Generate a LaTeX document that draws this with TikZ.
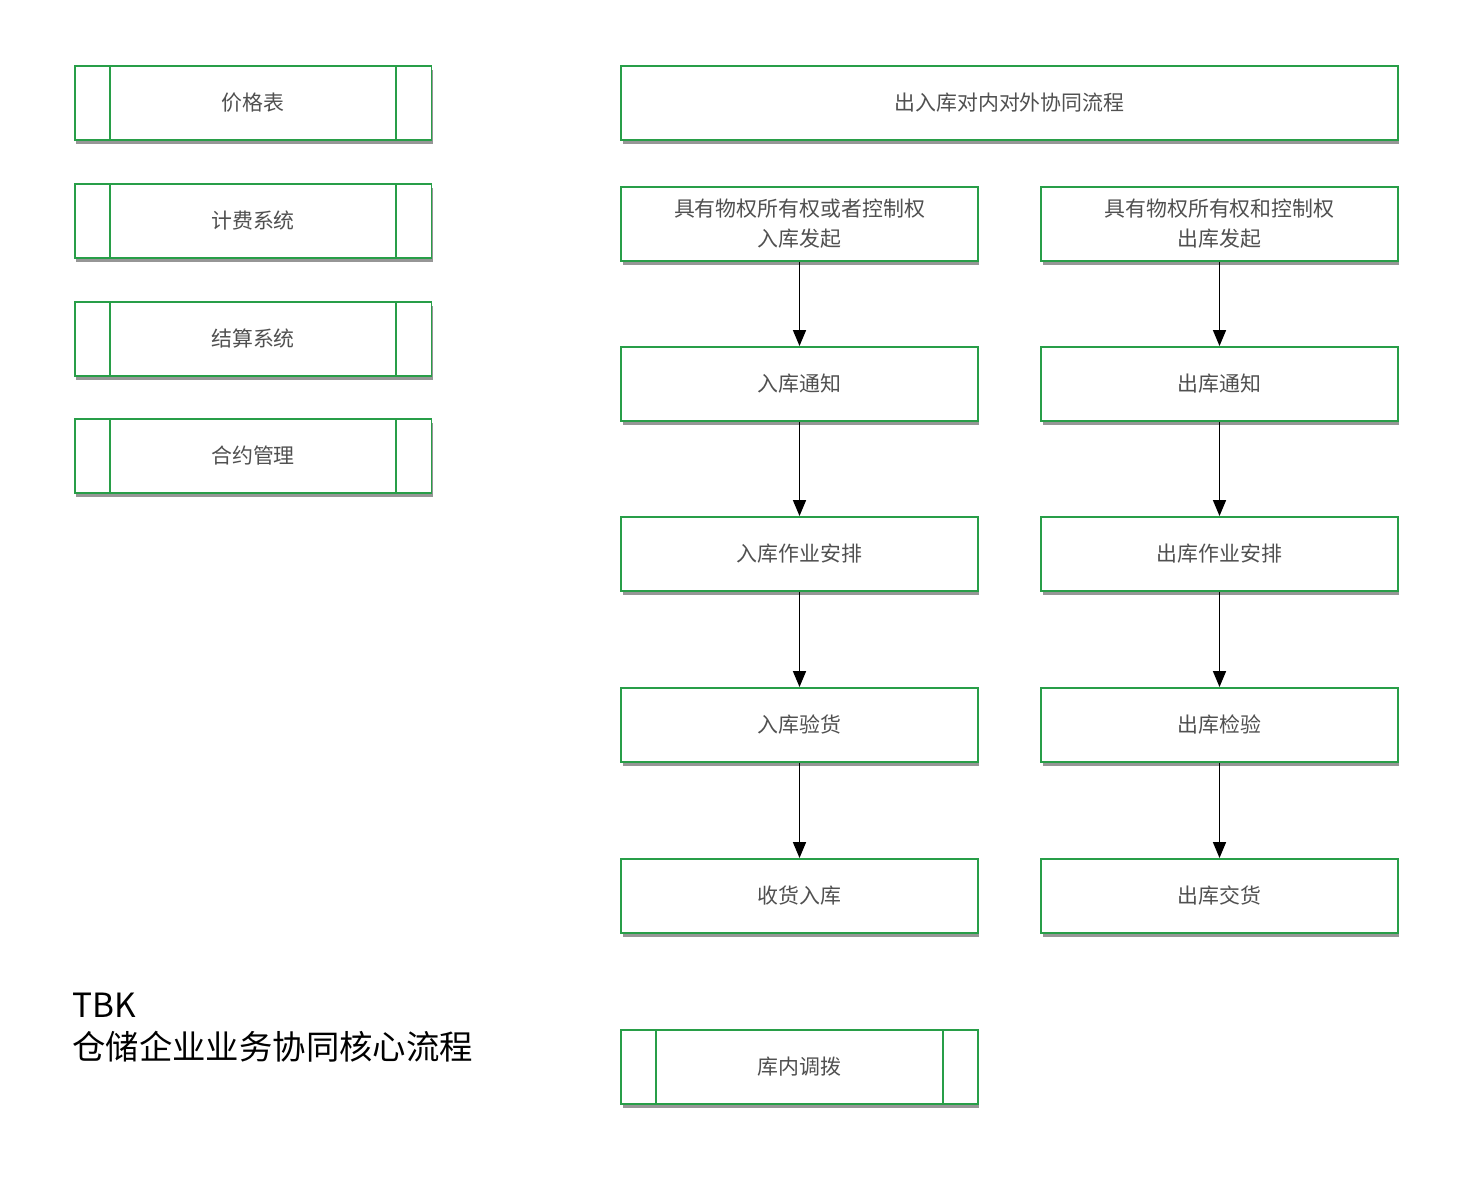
\documentclass[tikz,border=0pt]{standalone}
\usepackage{fontspec}
\setmainfont{Noto Sans CJK SC}
\usetikzlibrary{arrows.meta,shadows}
\definecolor{boxgreen}{RGB}{40,158,72}
\definecolor{labelgray}{RGB}{80,80,80}
\tikzset{
  flowbox/.style={draw=boxgreen,line width=1.1pt,fill=white,minimum width=7.14cm,minimum height=1.48cm,
    inner sep=0pt,align=center,text=labelgray,font=\fontsize{11.9}{17}\selectfont,
    drop shadow={shadow xshift=0.03cm,shadow yshift=-0.08cm,fill=black!55,opacity=0.75}},
  widebox/.style={flowbox,minimum width=15.54cm},
  flowarrow/.style={-{Triangle[length=0.32cm,width=0.26cm]},line width=0.9pt,black},
}
\begin{document}
\begin{tikzpicture}[x=0.02cm,y=-0.02cm]
\useasboundingbox[fill=white] (0,0) rectangle (1468,1179);
% left: predefined process boxes
\node[flowbox] (price) at (253,103) {\raisebox{-0.1em}{价格表}};
\node[flowbox] (billing) at (253,221) {\raisebox{-0.1em}{计费系统}};
\node[flowbox] (settle) at (253,339) {\raisebox{-0.1em}{结算系统}};
\node[flowbox] (contract) at (253,456) {\raisebox{-0.1em}{合约管理}};
% top
\node[widebox] (top) at (1009.5,103) {\raisebox{-0.1em}{出入库对内对外协同流程}};
% inbound column
\node[flowbox] (inStart) at (799.5,224) {具有物权所有权或者控制权\\入库发起};
\node[flowbox] (inNotice) at (799.5,384) {\raisebox{-0.1em}{入库通知}};
\node[flowbox] (inPlan) at (799.5,554) {\raisebox{-0.1em}{入库作业安排}};
\node[flowbox] (inCheck) at (799.5,725) {\raisebox{-0.1em}{入库验货}};
\node[flowbox] (inDone) at (799.5,896) {\raisebox{-0.1em}{收货入库}};
% outbound column
\node[flowbox] (outStart) at (1219.5,224) {具有物权所有权和控制权\\出库发起};
\node[flowbox] (outNotice) at (1219.5,384) {\raisebox{-0.1em}{出库通知}};
\node[flowbox] (outPlan) at (1219.5,554) {\raisebox{-0.1em}{出库作业安排}};
\node[flowbox] (outCheck) at (1219.5,725) {\raisebox{-0.1em}{出库检验}};
\node[flowbox] (outDone) at (1219.5,896) {\raisebox{-0.1em}{出库交货}};
% transfer
\node[flowbox] (transfer) at (799.5,1067) {\raisebox{-0.1em}{库内调拨}};
% side bars of the process boxes
\foreach \n in {price,billing,settle,contract,transfer}{
  \draw[boxgreen,line width=1.1pt] ([xshift=0.72cm]\n.north west) -- ([xshift=0.72cm]\n.south west);
  \draw[boxgreen,line width=1.1pt] ([xshift=-0.72cm]\n.north east) -- ([xshift=-0.72cm]\n.south east);
}
% arrows
\foreach \a/\b in {inStart/inNotice,inNotice/inPlan,inPlan/inCheck,inCheck/inDone,
  outStart/outNotice,outNotice/outPlan,outPlan/outCheck,outCheck/outDone}
  \draw[flowarrow] (\a) -- (\b);
% title
\node[anchor=north west,align=left,inner sep=0pt,font=\fontsize{19}{24}\selectfont] (title) at (72,993) {TBK\\仓储企业业务协同核心流程};
\end{tikzpicture}
\end{document}
